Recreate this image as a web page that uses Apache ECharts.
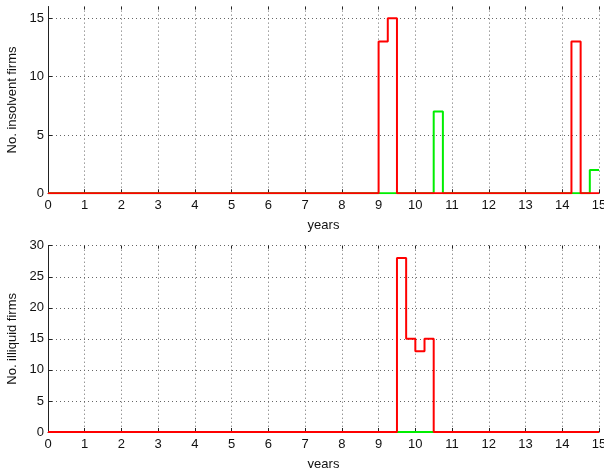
<!DOCTYPE html>
<html><head><meta charset="utf-8">
<script src="https://cdn.jsdelivr.net/npm/echarts@6/dist/echarts.min.js"></script>
<style>html,body{margin:0;padding:0;background:#fff}#c{width:604px;height:468px}</style>
</head><body><div id="c"></div>
<script>
// step-change points [year, count]; each value holds until the next point
var insolventRed   = [[0,0],[9,13],[9.25,15],[9.5,0],[14.25,13],[14.5,0],[15,0]];
var insolventGreen = [[0,0],[10.5,7],[10.75,0],[14.75,2],[15,2]];
var illiquidRed    = [[0,0],[9.5,28],[9.75,15],[10,13],[10.25,15],[10.5,0],[15,0]];
var illiquidGreen  = [[0,0],[15,0]];
var topYTicks = [0,5,10,15];
var botYTicks = [0,5,10,15,20,25,30];

var font = 'Liberation Sans, Arial, Helvetica, sans-serif';
var gridLine = {show:true, lineStyle:{color:'#666', type:[1,3], width:1}};
function xAx(gi){
  return {type:'value', gridIndex:gi, min:0, max:15, interval:1,
    name:'years', nameLocation:'middle', nameGap:26,
    nameTextStyle:{color:'#111', fontSize:13, fontFamily:font},
    axisLine:{show:true, lineStyle:{color:'#222', width:1}},
    axisTick:{show:true, inside:true, length:4, lineStyle:{color:'#222'}},
    axisLabel:{color:'#111', fontSize:13, fontFamily:font, margin:6},
    splitLine:gridLine};
}
function xTop(gi){
  return {type:'value', gridIndex:gi, position:'top', min:0, max:15, interval:1,
    axisLine:{show:false}, axisTick:{show:true, inside:true, length:3, lineStyle:{color:'#222'}},
    axisLabel:{show:false}, splitLine:{show:false}};
}
function yAx(gi, max, ticks, name){
  return {type:'value', gridIndex:gi, min:0, max:max,
    name:name, nameLocation:'middle', nameGap:25,
    nameTextStyle:{color:'#111', fontSize:13, fontFamily:font},
    axisLine:{show:true, lineStyle:{color:'#222', width:1}},
    axisTick:{show:true, inside:true, length:4, customValues:ticks, lineStyle:{color:'#222'}},
    axisLabel:{color:'#111', fontSize:13, fontFamily:font, margin:4, customValues:ticks},
    splitLine:gridLine};
}
function stepSeries(data, color, xi, yi){
  return {type:'line', step:'end', data:data, xAxisIndex:xi, yAxisIndex:yi,
    showSymbol:false, symbol:'none', animation:false,
    lineStyle:{color:color, width:2}, itemStyle:{color:color}};
}
var chart = echarts.init(document.getElementById('c'));
chart.setOption({
  animation:false,
  grid:[{left:48, right:5, top:6.6, height:186.7, outerBoundsMode:'none', containLabel:false},
        {left:48, right:5, top:245.7, height:186.3, outerBoundsMode:'none', containLabel:false}],
  xAxis:[xAx(0), xAx(1), xTop(0), xTop(1)],
  yAxis:[yAx(0,16,topYTicks,'No. insolvent firms'), yAx(1,30,botYTicks,'No. illiquid firms')],
  series:[
    stepSeries(insolventGreen,'#00ee00',0,0),
    stepSeries(insolventRed,'#ff0000',0,0),
    stepSeries(illiquidGreen,'#00ee00',1,1),
    stepSeries(illiquidRed,'#ff0000',1,1)
  ]
});
</script></body></html>
